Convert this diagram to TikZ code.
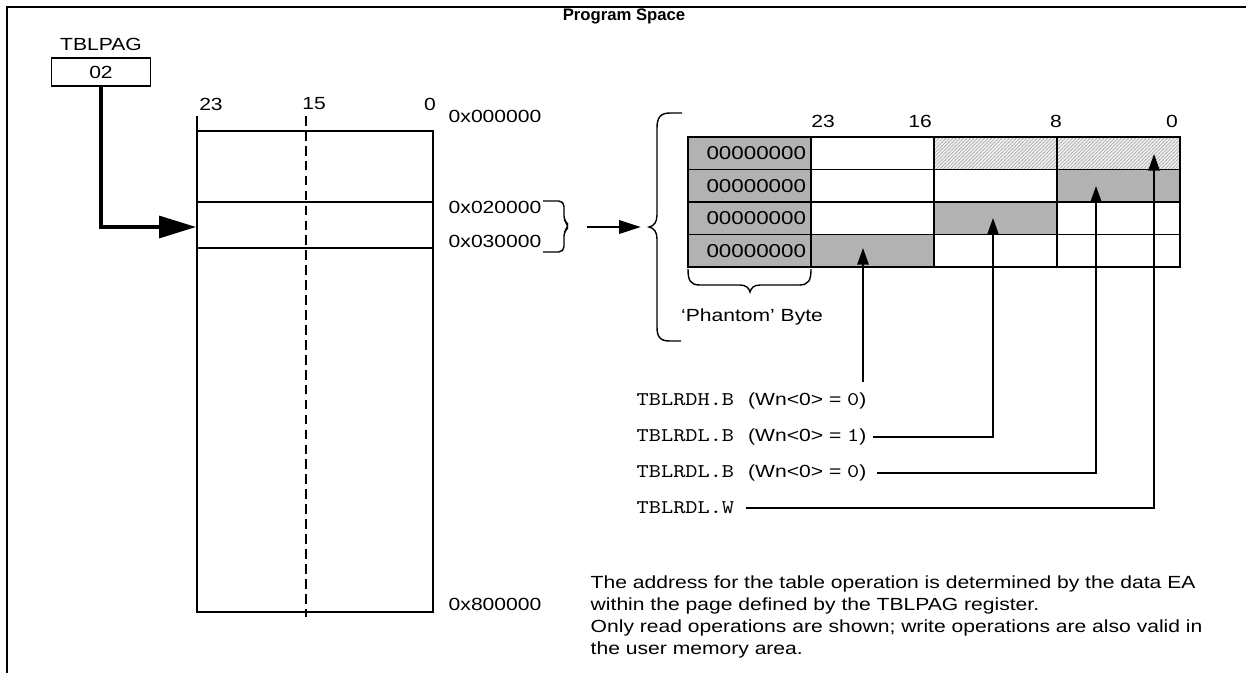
\documentclass[tikz,border=0pt]{standalone}
\usepackage{fontspec}
\setmainfont{Liberation Sans}[FakeStretch=1.2]
\newfontfamily\titlefont{Liberation Sans}
\newfontfamily\codefont{lmmono10-regular.otf}[FakeStretch=1.2]
\usepackage{tikz}
\usetikzlibrary{arrows.meta,patterns,calc}

\pgfdeclarepatternformonly{finehatch}{\pgfqpoint{-0.5pt}{-0.5pt}}{\pgfqpoint{2.5pt}{2.5pt}}{\pgfqpoint{2pt}{2pt}}{%
  \pgfsetlinewidth{0.3pt}
  \pgfpathmoveto{\pgfqpoint{-0.2pt}{-0.2pt}}
  \pgfpathlineto{\pgfqpoint{2.2pt}{2.2pt}}
  \pgfusepath{stroke}}

\newcommand{\code}[1]{{\codefont\fontsize{11}{12}\selectfont #1}}

\tikzset{
  cell/.style={draw, line width=1pt, minimum height=0.65cm, text width=2.26cm, inner sep=0.1cm, align=right, font=\fontsize{10.6}{12}\selectfont},
  plain/.style={fill=white},
  shade/.style={fill=gray!60},
  hatch/.style={preaction={fill=gray!12}, pattern=finehatch, pattern color=gray!70},
  tipline/.style={line width=1pt, -{Triangle[length=9.5pt,width=6.5pt]}},
  bigarrow/.style={line width=1.8pt, -{Triangle[length=21pt,width=12.5pt]}},
  midarrow/.style={line width=1.7pt, -{Triangle[length=12.5pt,width=7.5pt]}},
  bracestroke/.style={line width=0.8pt}
}

\begin{document}
\begin{tikzpicture}[x=0.02cm, y=-0.02cm, line width=1pt, font=\fontsize{10}{12}\selectfont]
    \useasboundingbox (0,0) rectangle (1246,673);

    % Frame
    \draw[line width=1.1pt] (1246,7) -- (7,7) -- (7,673);
    \node[font=\titlefont\fontsize{9.5}{11}\selectfont\bfseries] (title) at (624,16) {Program Space};

    % Page register
    \node (paglbl) at (101,44) {TBLPAG};
    \node[draw, minimum width=1.98cm, minimum height=0.56cm, inner sep=0] (pag) at (101,72) {02};
    \coordinate (page) at (196,227);
    \draw[bigarrow] (pag.south) |- (page);

    % Memory map
    \draw (197,116) -- (197,612) -- (433,612) -- (433,131) -- (197,131);
    \draw (197,202) -- (433,202) (197,248) -- (433,248);
    \draw[dash pattern=on 5.5pt off 3pt] (306,116) -- (306,617);
    \node (m23) at (211,104) {23};
    \node (m15) at (314,104) {15};
    \node (m0) at (430,104) {0};
    \node[anchor=west] (a0) at (442,116) {0x000000};
    \node[anchor=west] (a2) at (442,207) {0x020000};
    \node[anchor=west] (a3) at (442,241) {0x030000};
    \node[anchor=west] (a8) at (442,604) {0x800000};

    % Page bracket and brace
    \draw[bracestroke, rounded corners=3pt] (543,201) -- (564,201) -- (564,221) -- (570,226) -- (564,231) -- (564,252) -- (543,252);
    \coordinate (brk) at (587,227);
    \coordinate (brc) at (641,227);
    \draw[midarrow] (brk) -- (brc);
    \draw[bracestroke] (682,113) -- (670,113) .. controls (660,113) and (657,118) .. (657,128) -- (657,215)
        .. controls (657,222) and (654,226) .. (649,227) .. controls (654,228) and (657,232) .. (657,239)
        -- (657,327) .. controls (657,337) and (660,341) .. (670,341) -- (681,341);

    % Table
    \node (h23) at (823,121) {23};
    \node (h16) at (920,121) {16};
    \node (h8) at (1056,121) {8};
    \node (h0) at (1172,121) {0};
    \foreach \r/\a/\b/\c in {1/plain/hatch/hatch, 2/plain/plain/shade, 3/plain/shade/plain, 4/shade/plain/plain} {
        \node[cell, shade] (c\r0) at (749.5,{120.75+32.5*\r}) {00000000};
        \node[cell, \a] (c\r1) at (872.5,{120.75+32.5*\r}) {};
        \node[cell, \b] (c\r2) at (995.5,{120.75+32.5*\r}) {};
        \node[cell, \c] (c\r3) at (1118.5,{120.75+32.5*\r}) {};
    }

    % Phantom byte
    \draw[bracestroke] (688,269) .. controls (688,280) and (690,285) .. (700,285) -- (740,285)
        .. controls (746,285) and (749,288) .. (750,292) .. controls (751,288) and (754,285) .. (760,285)
        -- (799,285) .. controls (809,285) and (811,280) .. (811,269);
    \node (phantom) at (752,317) {‘Phantom’ Byte};

    % Instructions
    \coordinate (tH) at (863,248);
    \coordinate (tL1) at (993,218);
    \coordinate (tL0) at (1096,186);
    \coordinate (tW) at (1154,154);
    \node[anchor=west] (rdh) at (630,401) {\code{TBLRDH.B}\hspace{8pt}(Wn<0> = \code{0})};
    \node[anchor=west] (rdl1) at (630,437) {\code{TBLRDL.B}\hspace{8pt}(Wn<0> = \code{1})};
    \node[anchor=west] (rdl0) at (630,473) {\code{TBLRDL.B}\hspace{8pt}(Wn<0> = \code{0})};
    \node[anchor=west] (rdw) at (630,508) {\code{TBLRDL.W}};
    \draw[tipline] ($(tH |- rdh.north)+(0,-4)$) -- (tH);
    \draw[tipline] (rdl1.east) -| (tL1);
    \draw[tipline] ([xshift=2pt]rdl0.east) -| (tL0);
    \draw[tipline] ([xshift=3pt]rdw.east) -| (tW);

    % Note
    \node[anchor=west, align=left, font=\fontsize{10}{12.5}\selectfont] (note) at (584,617) {The address for the table operation is determined by the data EA\\within the page defined by the TBLPAG register.\\Only read operations are shown; write operations are also valid in\\the user memory area.};
\end{tikzpicture}
\end{document}
